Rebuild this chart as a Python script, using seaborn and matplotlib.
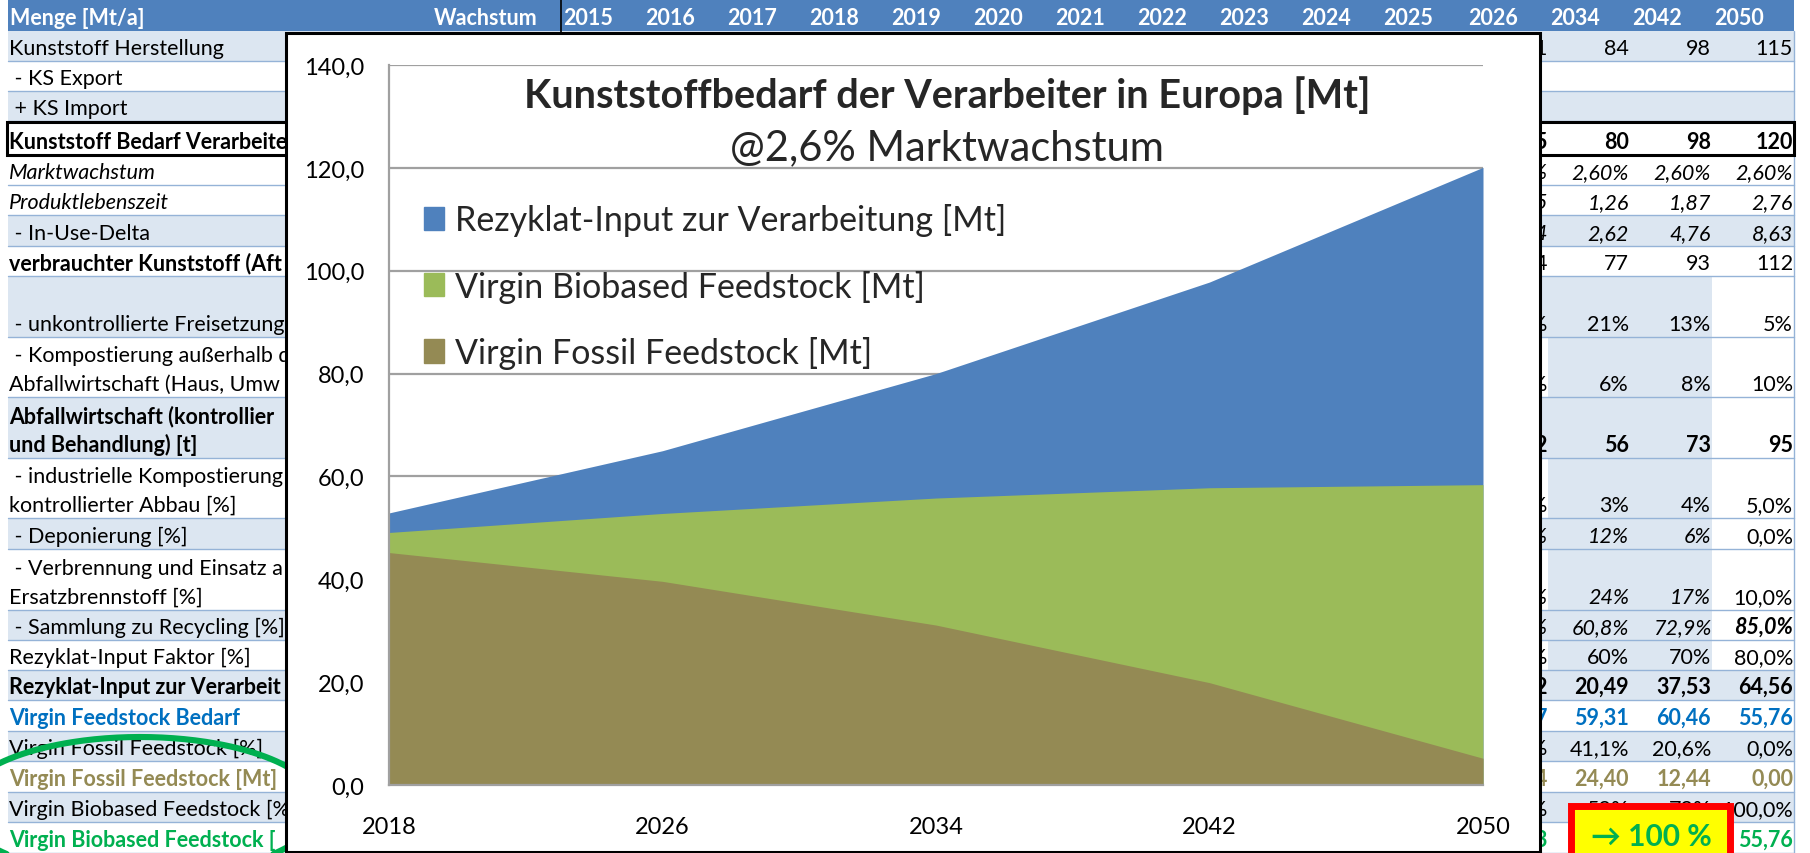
import numpy as np
import pandas as pd
import matplotlib
matplotlib.use("Agg")
import matplotlib.pyplot as plt
from matplotlib.patches import Rectangle, Patch
from matplotlib.transforms import Bbox, TransformedBbox
import seaborn as sns

# --- chart data ---
years = [2018, 2026, 2034, 2042, 2050]
fossil = [45.2, 39.6, 31.1, 19.9, 5.2]
biobased = [3.9, 13.2, 24.7, 37.9, 53.2]
rezyklat = [3.8, 12.2, 24.2, 40.0, 61.7]
series_names = ["Virgin Fossil Feedstock [Mt]", "Virgin Biobased Feedstock [Mt]",
                "Rezyklat-Input zur Verarbeitung [Mt]"]
title = "Kunststoffbedarf der Verarbeiter in Europa [Mt]"
subtitle = "@2,6% Marktwachstum"

# --- spreadsheet behind the chart (only what is visible) ---
header_years = ["2015", "2016", "2017", "2018", "2019", "2020", "2021", "2022",
                "2023", "2024", "2025", "2026", "2034", "2042", "2050"]
row_labels = [
    ["Kunststoff Herstellung"],
    [" - KS Export"],
    [" + KS Import"],
    ["Kunststoff Bedarf Verarbeite"],
    ["Marktwachstum"],
    ["Produktlebenszeit"],
    [" - In-Use-Delta"],
    ["verbrauchter Kunststoff (Aft"],
    ["", " - unkontrollierte Freisetzung"],
    [" - Kompostierung außerhalb d", "Abfallwirtschaft (Haus, Umw"],
    ["Abfallwirtschaft (kontrollier", "und Behandlung) [t]"],
    [" - industrielle Kompostierung", "kontrollierter Abbau [%]"],
    [" - Deponierung [%]"],
    [" - Verbrennung und Einsatz a", "Ersatzbrennstoff [%]"],
    [" - Sammlung zu Recycling [%]"],
    ["Rezyklat-Input Faktor [%]"],
    ["Rezyklat-Input zur Verarbeit"],
    ["Virgin Feedstock Bedarf"],
    ["Virgin Fossil Feedstock [%]"],
    ["Virgin Fossil Feedstock [Mt]"],
    ["Virgin Biobased Feedstock [%"],
    ["Virgin Biobased Feedstock ["],
]
# 2026 column: only the last character peeks out from behind the chart
vals_2026 = ["1", "", "", "5", "%", "5", "4", "4", "%", "%", "2", "%",
             "%", "%", "%", "%", "2", "7", "%", "4", "%", "3"]
vals_2034 = ["84", "", "", "80", "2,60%", "1,26", "2,62", "77", "21%", "6%", "56", "3%",
             "12%", "24%", "60,8%", "60%", "20,49", "59,31", "41,1%", "24,40", "59%", ""]
vals_2042 = ["98", "", "", "98", "2,60%", "1,87", "4,76", "93", "13%", "8%", "73", "4%",
             "6%", "17%", "72,9%", "70%", "37,53", "60,46", "20,6%", "12,44", "79%", ""]
vals_2050 = ["115", "", "", "120", "2,60%", "2,76", "8,63", "112", "5%", "10%", "95", "5,0%",
             "0,0%", "10,0%", "85,0%", "80,0%", "64,56", "55,76", "0,0%", "0,00", "100,0%", "55,76"]
callout = "\u2192 100 %"

# layout / styles
row_h = [30, 30, 30, 34, 30, 30, 31, 30, 61, 60, 61, 60, 31, 61, 30, 30, 30, 31, 30, 31, 30, 31]
row_fill = [1, 0, 1, 0, 0, 0, 1, 0, 1, 0, 1, 0, 1, 0, 1, 0, 1, 0, 1, 0, 1, 0]
label_style = {3: ("bold", "normal", "black"), 4: ("normal", "italic", "black"),
               5: ("normal", "italic", "black"), 7: ("bold", "normal", "black"),
               10: ("bold", "normal", "black"), 16: ("bold", "normal", "black"),
               17: ("bold", "normal", "#0070C0"), 19: ("bold", "normal", "#948A54"),
               21: ("bold", "normal", "#00B050")}
value_style = dict(label_style)
value_style.update({6: ("normal", "italic", "black"), 7: ("normal", "normal", "black"),
                    12: ("normal", "italic", "black"), 13: ("normal", "italic", "black"),
                    14: ("normal", "italic", "black")})
cell_override = {(12, 3): ("normal", "normal", "black"), (13, 3): ("normal", "normal", "black"),
                 (14, 3): ("bold", "italic", "black")}

LIGHT = "#DCE6F1"
HEAD = "#4F81BD"
LINE = "#95B3D7"
FS_TAB = 15.5

sns.set_style("white")
plt.rcParams["font.family"] = ["Lato", "DejaVu Sans"]

fig = plt.figure(figsize=(18.1, 8.54), dpi=100)
bg = fig.add_axes([0, 0, 1, 1])
bg.set_xlim(0, 1810)
bg.set_ylim(854, 0)
bg.axis("off")
left_clip = TransformedBbox(Bbox([[0, 0], [286, 854]]), bg.transData)
right_clip = TransformedBbox(Bbox([[1540, 0], [1810, 854]]), bg.transData)

# header
bg.add_patch(Rectangle((8, 0), 1786, 32, fc=HEAD, ec="none"))
bg.text(10, 25, "Menge [Mt/a]", color="white", fontweight="bold", fontsize=FS_TAB)
bg.text(538, 25, "Wachstum", color="white", fontweight="bold", fontsize=FS_TAB, ha="right")
bg.plot([561, 561], [0, 33], color="black", lw=1.2)
for k, yr in enumerate(header_years):
    bg.text(563 + 82 * k + (3 if k >= 11 else 0), 25, yr,
            color="white", fontweight="bold", fontsize=FS_TAB)

# rows
col_right = [1547, 1629, 1711, 1793]
columns = [vals_2026, vals_2034, vals_2042, vals_2050]
top = 32
for i, h in enumerate(row_h):
    bottom = top + h
    if row_fill[i]:
        bg.add_patch(Rectangle((8, top), 1786, h, fc=LIGHT, ec="none"))
    if 8 <= i <= 15:
        bg.add_patch(Rectangle((1548, top), 164, h, fc=LIGHT, ec="none"))
        bg.add_patch(Rectangle((1712, top), 82, h, fc="white", ec="none"))
    bg.plot([8, 1794], [bottom, bottom], color=LINE, lw=1)
    w, s, c = label_style.get(i, ("normal", "normal", "black"))
    lines = row_labels[i]
    for j, txt in enumerate(lines):
        yb = bottom - 7 - 29 * (len(lines) - 1 - j)
        tx = bg.text(9, yb, txt, fontsize=FS_TAB, fontweight=w, fontstyle=s, color=c, zorder=3)
        tx.set_clip_box(left_clip)
        tx.set_clip_on(True)
    for k, col in enumerate(columns):
        w, s, c = cell_override.get((i, k), value_style.get(i, ("normal", "normal", "black")))
        tx = bg.text(col_right[k], bottom - 7, col[i], fontsize=FS_TAB, fontweight=w,
                     fontstyle=s, color=c, ha="right", zorder=3)
        if k == 0:
            tx.set_clip_box(right_clip)
            tx.set_clip_on(True)
    top = bottom
bg.plot([1794, 1794], [32, 854], color=LINE, lw=1)
bg.add_patch(Rectangle((7, 123), 1787, 33, fc="none", ec="black", lw=2.2, zorder=4))

# green ellipse
t = np.linspace(0, 2 * np.pi, 400)
bg.plot(140 + 180 * np.cos(t), 808 + 70 * np.sin(t), color="#00B050", lw=4.4, zorder=5)

# yellow call-out box
bg.add_patch(Rectangle((1570.5, 806.5), 159, 70, fc="#FFFF00", ec="#FF0000", lw=5, zorder=6))
bg.text(1651, 846, callout, fontsize=21.5, fontweight="bold", color="#00B050",
        ha="center", zorder=7)

# chart frame
bg.add_patch(Rectangle((286, 34), 1254, 819, fc="white", ec="black", lw=2.2, zorder=10))

# --- the chart ---
ax = fig.add_axes([389 / 1810, (854 - 786) / 854, 1094 / 1810, 720 / 854])
ax.patch.set_visible(False)
colors = ["#948A54", "#9BBB59", "#4F81BD"]
df = pd.DataFrame({"year": years, "fossil": fossil, "bio": biobased, "rez": rezyklat})
df["bio_top"] = df["fossil"] + df["bio"]
df["total"] = df["bio_top"] + df["rez"]
# each band drawn from zero so no seams show between the layers
ax.fill_between(df["year"], 0, df["total"], color=colors[2], lw=0, zorder=2)
ax.fill_between(df["year"], 0, df["bio_top"], color=colors[1], lw=0, zorder=2)
ax.fill_between(df["year"], 0, df["fossil"], color=colors[0], lw=0, zorder=2)
ax.set_xlim(2018, 2050)
ax.set_ylim(0, 140)
ax.set_xticks(years)
ax.set_xticklabels([str(y) for y in years], fontsize=17)
yt = np.arange(0, 141, 20)
ax.set_yticks(yt)
ax.set_yticklabels([f"{v:.1f}".replace(".", ",") for v in yt], fontsize=17)
ax.yaxis.grid(True, color="#A0A0A0", lw=1.6)
ax.set_axisbelow(True)
sns.despine(ax=ax, top=True, right=True)
for sp in ["left", "bottom"]:
    ax.spines[sp].set_color("#A0A0A0")
    ax.spines[sp].set_linewidth(1.6)
ax.tick_params(axis="both", direction="out", length=6, width=1.6, color="#A0A0A0",
               labelcolor="black")
ax.tick_params(axis="y", pad=12)
ax.tick_params(axis="x", pad=16)

handles = [Patch(color=colors[2]), Patch(color=colors[1]), Patch(color=colors[0])]
ax.legend(handles, series_names[::-1], loc="upper left", bbox_to_anchor=(0.032, 0.808),
          frameon=False, fontsize=24.5, handlelength=0.6, handleheight=0.68,
          handletextpad=0.3, labelspacing=0.98, borderpad=0, borderaxespad=0)

fig.text(947 / 1810, 1 - 96 / 854, title, fontsize=28.5, fontweight="bold",
         ha="center", va="center")
fig.text(947 / 1810, 1 - 148 / 854, subtitle, fontsize=30, ha="center", va="center")

fig.savefig("out.png", dpi=100)
